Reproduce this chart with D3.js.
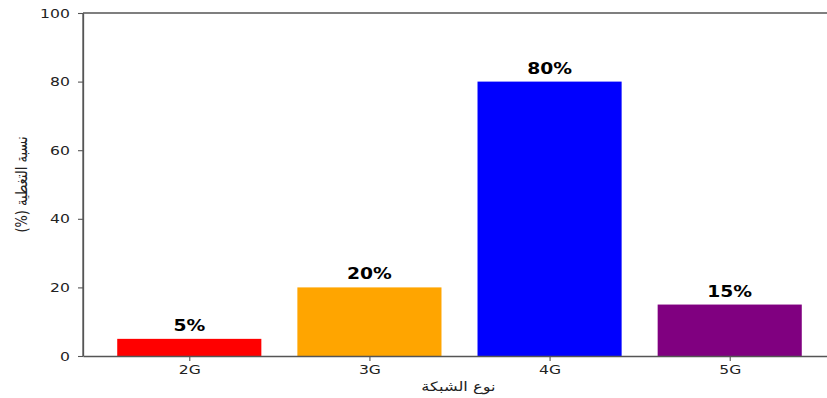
<!DOCTYPE html>
<html>
<head>
<meta charset="utf-8">
<script src="https://cdn.jsdelivr.net/npm/d3@7"></script>
<style>
  body { margin: 0; background: #fff; }
  svg { display: block; }
</style>
</head>
<body>
<svg id="chart" width="827" height="398"></svg>
<script>
// Network coverage by generation
const categories = ["2G", "3G", "4G", "5G"];
const coverage = [5, 20, 80, 15];
const barColors = ["#ff0000", "#ffa500", "#0000ff", "#800080"];
const yTicks = [0, 20, 40, 60, 80, 100];
const xLabel = "نوع الشبكة";
const yLabel = "نسبة التغطية (%)";

(function draw() {
  const svg = d3.select("#chart");
  const plotLeft = 83, plotRight = 836, plotTop = 13, plotBottom = 356;
  const axisColor = "#555";
  const font = "DejaVu Sans, sans-serif";
  const stretch = 1.25; // text is drawn slightly wide

  // Linear x in category units, with matplotlib-like margins
  const x = d3.scaleLinear().domain([-0.59, 3.59]).range([plotLeft, plotRight]);
  const y = d3.scaleLinear().domain([0, 100]).range([plotBottom, plotTop]);
  const barW = 0.8;

  svg.selectAll("rect.bar")
    .data(coverage)
    .join("rect")
    .attr("class", "bar")
    .attr("x", (d, i) => x(i - barW / 2))
    .attr("width", (d, i) => x(i + barW / 2) - x(i - barW / 2))
    .attr("y", d => y(d))
    .attr("height", d => y(0) - y(d))
    .attr("fill", (d, i) => barColors[i]);

  // Value labels
  svg.selectAll("text.val")
    .data(coverage)
    .join("text")
    .attr("class", "val")
    .attr("transform", (d, i) => `translate(${x(i)},${y(d) - 8}) scale(${stretch},1)`)
    .attr("text-anchor", "middle")
    .attr("font-family", font)
    .attr("font-weight", "bold")
    .attr("font-size", 15)
    .attr("fill", "#000")
    .text(d => d + "%");

  // Spines
  const spines = svg.append("g").attr("stroke", axisColor).attr("stroke-width", 1.3);
  spines.append("line").attr("x1", plotLeft).attr("x2", plotRight).attr("y1", plotTop).attr("y2", plotTop);
  spines.append("line").attr("x1", plotLeft).attr("x2", plotLeft).attr("y1", plotTop).attr("y2", plotBottom);

  // Axes
  const xAxis = d3.axisBottom(x)
    .tickValues(d3.range(categories.length))
    .tickFormat(i => categories[i])
    .tickSize(5).tickSizeOuter(0).tickPadding(4);
  const gx = svg.append("g").attr("transform", `translate(0,${plotBottom})`).call(xAxis);

  const yAxis = d3.axisLeft(y)
    .tickValues(yTicks)
    .tickSize(5).tickSizeOuter(0).tickPadding(6);
  const gy = svg.append("g").attr("transform", `translate(${plotLeft},0)`).call(yAxis);

  [gx, gy].forEach(g => {
    g.select(".domain").attr("stroke", axisColor).attr("stroke-width", 1.3);
    g.selectAll(".tick line").attr("stroke", axisColor).attr("stroke-width", 1.1);
    g.selectAll(".tick text")
      .attr("font-family", font)
      .attr("font-size", 13)
      .attr("fill", "#222")
      .attr("transform", `scale(1.2,1)`);
  });

  // Axis titles
  svg.append("text")
    .attr("transform", `translate(${(plotLeft + plotRight) / 2 - 1},391) scale(${stretch},1)`)
    .attr("text-anchor", "middle")
    .attr("font-family", font)
    .attr("font-size", 13)
    .attr("fill", "#222")
    .text(xLabel);

  svg.append("text")
    .attr("transform", `translate(27,${(plotTop + plotBottom) / 2}) scale(${stretch},1) rotate(-90)`)
    .attr("text-anchor", "middle")
    .attr("direction", "rtl")
    .attr("font-family", font)
    .attr("font-size", 13)
    .attr("fill", "#222")
    .text(yLabel);
})();
</script>
</body>
</html>
